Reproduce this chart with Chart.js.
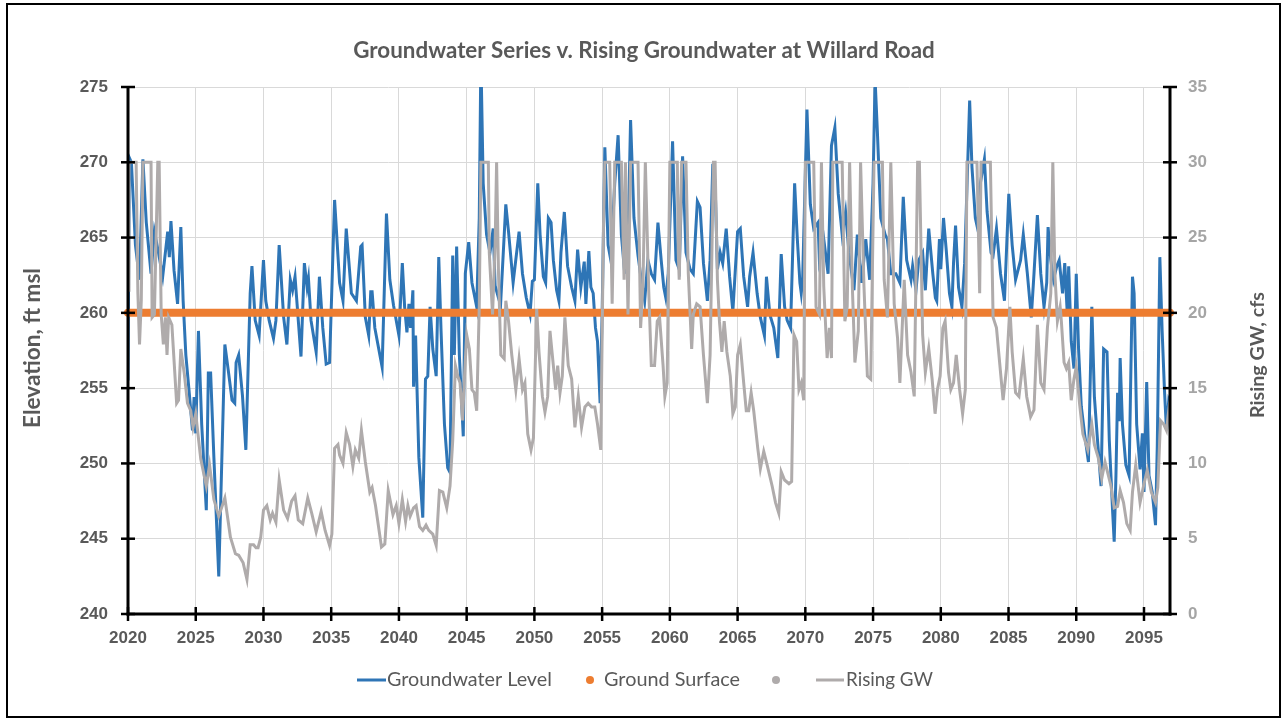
<!DOCTYPE html>
<html><head><meta charset="utf-8">
<script src="https://cdn.jsdelivr.net/npm/chart.js@4.4.1/dist/chart.umd.min.js"></script>
<style>html,body{margin:0;padding:0;background:#fff;}#wrap{width:1283px;height:721px;position:relative;}</style>
</head><body><div id="wrap"><canvas id="c" width="1283" height="721"></canvas></div>
<script>
const chartTitle = "Groundwater Series v. Rising Groundwater at Willard Road";
const leftAxisTitle = "Elevation, ft msl";
const rightAxisTitle = "Rising GW, cfs";
const xTicks = [2020,2025,2030,2035,2040,2045,2050,2055,2060,2065,2070,2075,2080,2085,2090,2095];
const yLeftTicks = [240,245,250,255,260,265,270,275];
const yRightTicks = [0,5,10,15,20,25,30,35];

const gwYears = [2020.00,2020.10,2020.25,2020.55,2020.85,2021.10,2021.35,2021.70,2021.95,2022.25,2022.56,2022.93,2023.05,2023.17,2023.40,2023.66,2023.90,2024.07,2024.27,2024.50,2024.76,2024.88,2025.00,2025.20,2025.44,2025.78,2025.93,2026.10,2026.34,2026.70,2027.15,2027.40,2027.68,2027.88,2027.98,2028.17,2028.45,2028.70,2029.02,2029.15,2029.39,2029.68,2030.00,2030.17,2030.42,2030.74,2030.92,2031.16,2031.49,2031.73,2031.98,2032.15,2032.33,2032.77,2033.02,2033.22,2033.32,2033.51,2033.89,2034.13,2034.38,2034.63,2034.88,2035.25,2035.62,2035.87,2036.11,2036.49,2036.86,2037.18,2037.28,2037.52,2037.77,2037.92,2038.02,2038.22,2038.76,2039.08,2039.33,2039.60,2040.00,2040.25,2040.42,2040.59,2040.74,2040.86,2041.03,2041.08,2041.23,2041.47,2041.76,2041.96,2042.13,2042.30,2042.50,2042.75,2042.94,2043.11,2043.36,2043.60,2043.77,2043.97,2044.09,2044.26,2044.46,2044.75,2044.90,2045.15,2045.39,2045.74,2045.93,2046.05,2046.22,2046.47,2046.72,2046.96,2047.10,2047.50,2047.89,2048.09,2048.43,2048.87,2049.12,2049.40,2049.68,2049.85,2050.00,2050.25,2050.42,2050.66,2050.83,2051.03,2051.23,2051.40,2051.64,2051.81,2051.96,2052.21,2052.45,2052.75,2052.99,2053.19,2053.43,2053.68,2053.80,2054.02,2054.17,2054.34,2054.51,2054.66,2054.85,2055.00,2055.20,2055.44,2055.64,2055.93,2056.18,2056.42,2056.67,2056.91,2057.10,2057.35,2057.65,2057.89,2058.14,2058.38,2058.63,2058.87,2059.12,2059.36,2059.55,2059.70,2059.88,2060.20,2060.45,2060.69,2060.94,2061.19,2061.49,2061.73,2062.03,2062.23,2062.48,2062.77,2062.97,2063.17,2063.34,2063.51,2063.71,2063.90,2064.16,2064.41,2064.65,2065.00,2065.20,2065.45,2065.74,2065.89,2066.14,2066.44,2066.68,2066.98,2067.13,2067.38,2067.67,2067.97,2068.22,2068.47,2068.66,2068.91,2069.21,2069.41,2069.60,2069.70,2069.80,2070.12,2070.37,2070.62,2070.94,2071.04,2071.36,2071.68,2071.93,2072.18,2072.43,2072.72,2072.97,2073.22,2073.59,2073.84,2074.16,2074.46,2074.75,2075.00,2075.15,2075.32,2075.57,2075.89,2076.06,2076.31,2076.68,2076.98,2077.23,2077.48,2077.80,2077.92,2078.17,2078.37,2078.66,2078.86,2079.11,2079.41,2079.60,2079.70,2079.90,2080.00,2080.20,2080.40,2080.64,2080.82,2080.94,2081.09,2081.31,2081.56,2081.76,2082.13,2082.30,2082.55,2082.72,2082.92,2083.22,2083.42,2083.71,2083.86,2084.11,2084.41,2084.70,2085.02,2085.27,2085.52,2085.89,2086.09,2086.39,2086.68,2086.88,2087.13,2087.38,2087.62,2087.82,2087.92,2088.12,2088.32,2088.56,2088.74,2088.99,2089.15,2089.34,2089.44,2089.63,2089.83,2090.00,2090.17,2090.37,2090.61,2090.90,2091.15,2091.34,2091.59,2091.83,2092.02,2092.27,2092.44,2092.68,2092.80,2092.93,2093.05,2093.17,2093.24,2093.41,2093.66,2093.90,2094.15,2094.27,2094.46,2094.71,2094.88,2095.00,2095.20,2095.37,2095.61,2095.85,2095.98,2096.17,2096.34,2096.51,2096.66,2096.83,2096.92];
const gwLevels = [255.5,270.3,270.0,264.5,262.2,270.2,266.0,262.6,265.4,264.0,262.4,265.4,263.7,266.1,262.8,260.6,265.7,260.8,257.2,254.9,252.2,254.4,252.0,258.8,252.6,246.9,256.0,256.0,250.4,242.5,257.9,256.2,254.2,254.0,256.7,257.2,254.5,250.9,261.3,263.1,259.5,258.5,263.5,260.8,259.5,258.3,259.5,264.5,259.7,257.9,262.2,261.5,262.4,257.1,263.3,261.7,262.3,259.5,257.4,262.4,259.0,256.6,256.7,267.5,262.0,260.8,265.6,261.3,260.8,264.4,264.5,259.7,258.5,261.4,261.4,259.0,256.4,266.6,262.2,260.5,258.5,263.3,260.4,258.7,260.6,259.0,261.5,255.1,258.5,250.4,246.4,255.6,255.8,260.4,257.6,255.8,263.7,258.8,252.6,249.7,249.4,263.8,257.2,264.4,257.2,251.8,262.6,264.7,262.0,260.4,266.3,277.0,268.6,265.2,264.0,265.6,261.8,260.5,267.2,265.4,262.0,265.4,262.6,261.0,259.9,262.1,262.2,268.6,265.2,262.4,262.0,266.3,266.0,263.5,261.5,260.8,264.0,266.7,263.1,261.7,260.8,264.2,261.7,263.4,260.6,264.1,261.7,261.3,259.0,258.1,254.0,259.9,271.0,264.5,263.5,268.6,271.8,265.2,262.6,264.7,272.8,266.3,263.8,262.2,260.8,263.5,262.6,262.2,266.0,263.5,261.7,261.0,262.6,271.4,263.5,262.9,270.4,264.0,262.9,262.6,267.4,267.0,263.3,260.8,263.5,269.9,268.6,262.9,264.0,263.3,265.6,262.4,260.1,265.4,265.6,262.4,260.4,262.4,264.0,261.3,259.7,258.5,262.4,259.9,259.0,257.0,263.9,260.4,259.5,259.0,268.6,264.9,262.0,261.3,262.2,273.5,267.2,265.6,266.0,263.5,264.9,262.6,271.1,272.3,267.9,265.2,266.7,264.0,261.5,265.2,262.0,264.9,262.2,268.6,275.5,272.0,266.3,265.2,264.9,262.6,262.6,262.0,267.7,263.5,262.2,263.1,261.5,263.5,264.0,261.5,265.6,262.6,261.0,260.8,264.9,262.9,266.3,264.2,261.3,260.4,263.3,265.8,261.7,260.4,263.3,274.1,269.7,266.3,265.6,268.6,270.2,266.7,264.0,263.8,265.6,262.6,260.8,267.9,264.5,262.2,263.5,265.2,262.6,259.7,262.6,266.5,262.6,260.4,262.0,265.7,263.5,262.2,263.1,263.5,261.3,263.3,259.9,263.1,258.1,256.3,262.6,257.6,253.8,252.0,250.1,260.4,254.4,251.3,248.5,257.6,257.4,251.5,246.9,244.8,249.2,254.7,252.8,257.0,252.6,249.9,249.2,262.4,261.3,252.6,249.6,252.0,248.1,255.4,249.2,248.1,245.9,251.1,263.7,258.8,254.9,252.2,254.2,254.0];

const rgYears = [2020.00,2020.07,2020.60,2020.73,2020.85,2020.98,2021.10,2021.70,2021.78,2021.95,2022.20,2022.30,2022.45,2022.61,2022.76,2022.88,2023.00,2023.24,2023.59,2023.73,2023.90,2024.15,2024.39,2024.63,2024.80,2025.00,2025.37,2025.78,2026.02,2026.34,2026.70,2027.15,2027.56,2027.93,2028.17,2028.50,2028.78,2029.02,2029.27,2029.45,2029.60,2029.80,2030.00,2030.25,2030.50,2030.67,2030.92,2031.16,2031.49,2031.78,2032.08,2032.33,2032.57,2032.90,2033.27,2033.56,2033.89,2034.26,2034.55,2034.88,2035.05,2035.25,2035.50,2035.62,2035.87,2036.11,2036.36,2036.60,2036.78,2037.03,2037.23,2037.52,2037.85,2038.02,2038.27,2038.71,2038.96,2039.21,2039.56,2039.80,2040.00,2040.25,2040.49,2040.66,2040.83,2041.08,2041.27,2041.52,2041.76,2042.00,2042.20,2042.50,2042.75,2042.99,2043.24,2043.53,2043.77,2043.97,2044.17,2044.34,2044.51,2044.70,2044.83,2045.00,2045.20,2045.39,2045.56,2045.74,2045.93,2046.05,2046.60,2046.67,2046.91,2047.10,2047.21,2047.35,2047.52,2047.77,2047.89,2048.09,2048.33,2048.63,2048.87,2049.12,2049.30,2049.51,2049.75,2049.93,2050.17,2050.34,2050.59,2050.78,2050.98,2051.15,2051.40,2051.57,2051.72,2051.89,2052.06,2052.25,2052.50,2052.75,2052.99,2053.24,2053.48,2053.73,2053.97,2054.22,2054.46,2054.66,2054.90,2055.10,2055.20,2055.56,2055.74,2055.93,2056.42,2056.62,2056.72,2056.91,2057.10,2057.65,2057.84,2058.01,2058.19,2058.43,2058.63,2058.87,2059.07,2059.24,2059.50,2059.63,2059.80,2060.00,2060.55,2060.62,2060.69,2060.87,2061.19,2061.36,2061.61,2061.73,2061.98,2062.23,2062.48,2062.77,2062.97,2063.22,2063.34,2063.51,2063.66,2063.84,2064.01,2064.21,2064.46,2064.65,2064.83,2065.00,2065.20,2065.45,2065.64,2065.82,2066.00,2066.19,2066.49,2066.68,2066.93,2067.18,2067.55,2067.80,2068.04,2068.22,2068.47,2068.79,2068.99,2069.16,2069.36,2069.53,2069.70,2069.88,2070.00,2070.62,2070.79,2071.04,2071.19,2071.36,2071.61,2071.78,2071.93,2072.03,2072.72,2072.92,2073.09,2073.27,2073.47,2073.66,2073.91,2074.08,2074.33,2074.58,2074.83,2075.07,2075.69,2075.82,2076.06,2076.31,2076.56,2076.81,2076.98,2077.30,2077.55,2077.80,2078.04,2078.29,2078.42,2078.66,2078.86,2079.11,2079.36,2079.58,2079.75,2079.95,2080.15,2080.32,2080.57,2080.74,2080.94,2081.14,2081.39,2081.61,2081.81,2081.93,2082.67,2082.87,2082.97,2083.66,2083.86,2084.11,2084.41,2084.60,2084.85,2085.10,2085.27,2085.52,2085.77,2086.09,2086.34,2086.63,2086.88,2087.13,2087.38,2087.62,2087.87,2088.12,2088.27,2088.42,2088.61,2088.81,2088.90,2089.10,2089.27,2089.44,2089.63,2089.83,2090.00,2090.24,2090.49,2090.85,2091.15,2091.34,2091.63,2091.88,2092.12,2092.37,2092.56,2092.80,2093.05,2093.24,2093.49,2093.73,2093.98,2094.15,2094.39,2094.71,2095.00,2095.24,2095.54,2095.85,2096.02,2096.22,2096.46,2096.66,2096.83,2096.92];
const rgFlows = [21.5,30,30,21.3,17.9,20.8,30,30,19.7,19.9,30,30,19.9,17.9,19.7,17.2,19.7,19.2,14.0,14.2,17.6,16.0,14.0,13.5,12.4,13.3,10.3,8.5,9.9,7.6,6.5,7.7,5.1,4.0,3.9,3.4,2.3,4.6,4.6,4.4,4.4,5.1,6.9,7.2,6.25,6.7,6.1,8.9,6.9,6.35,7.5,7.85,6.25,6.0,7.7,6.7,5.45,6.8,5.55,4.55,5.3,11.0,11.25,10.55,10.0,12.05,11.25,9.8,10.9,10.35,12.2,10.1,8.1,8.4,7.2,4.45,4.65,8.2,6.6,7.2,6.0,7.6,6.15,7.2,6.5,7.05,7.2,5.8,5.55,5.9,5.55,5.3,4.55,8.2,8.1,7.05,8.5,11.5,16.5,15.8,15.35,12.85,15.6,18.55,17.6,14.9,14.7,13.5,20.4,30,30,24.0,19.9,24.5,30,22.65,17.2,16.95,20.8,19.45,17.2,14.9,16.95,14.9,15.35,11.95,10.9,11.7,20.25,17.4,14.45,13.4,14.45,18.8,16.5,14.9,16.5,14.7,15.8,19.7,16.5,15.6,12.4,14.45,12.4,13.75,14.0,13.75,13.75,12.6,10.9,25.85,30,30,20.6,30,30,22.2,30,19.9,30,30,19.0,21.75,30,21.75,16.5,16.5,19.45,19.7,16.5,14.45,15.35,30,30,24.0,22.2,30,30,22.65,17.6,19.9,20.6,20.4,17.2,14.0,17.2,30,30,22.2,19.45,17.4,19.45,17.4,15.8,13.3,13.75,17.2,17.9,15.35,13.5,13.5,14.7,13.5,11.0,9.65,10.8,9.9,8.5,7.4,6.7,9.45,8.9,8.65,8.8,18.55,18.1,14.9,15.35,14.2,30,30,20.4,19.9,30,21.75,17.0,19.0,17.0,30,30,19.45,20.4,30,21.75,16.7,18.8,30,21.75,15.8,15.6,30,30,22.2,19.7,30,20.6,18.3,15.35,22.2,17.2,16.05,14.45,30,30,18.55,16.05,17.65,15.6,13.3,14.9,15.8,19.0,19.45,16.05,14.9,15.35,17.2,14.9,13.3,14.9,30,30,21.3,30,30,19.7,19.0,16.05,14.2,16.3,20.4,17.4,14.7,14.45,16.95,14.45,13.1,13.55,19.2,15.35,14.9,19.0,21.3,30,22.65,19.45,20.4,19.45,16.7,16.3,16.7,14.2,15.6,16.4,14.0,11.95,10.9,12.6,11.25,10.35,9.0,10.1,9.2,8.5,7.05,7.15,8.2,7.4,6.0,5.55,8.1,9.9,7.4,8.65,9.55,8.1,7.4,8.4,12.85,12.6,12.2,13.55,13.1];

const groundYears = [2020.0, 2096.92];
const groundLevels = [260, 260];

const COL_GW = '#2E75B6', COL_GS = '#ED7D31', COL_RG = '#AFABAB';
const TXT = '#595959', TXT_R = '#A5A5A5';
const FONT = "'Liberation Sans', Arial, sans-serif";
const TFONT = "Lato, 'Liberation Sans', sans-serif";

function pts(xs, ys){ return xs.map((x,i)=>({x:x, y:ys[i]})); }
function fitFont(ctx, text, weight, family, width){
  ctx.font = weight + " 100px " + family;
  const w = ctx.measureText(text).width;
  return weight + " " + (100*width/w).toFixed(2) + "px " + family;
}

const decor = {
  id:'decor',
  afterDatasetsDraw(chart){
    const {ctx, chartArea:a, scales} = chart;
    ctx.save();
    ctx.strokeStyle = '#000'; ctx.lineWidth = 3; ctx.lineCap = 'butt';
    const L = (x1,y1,x2,y2)=>{ctx.beginPath();ctx.moveTo(x1,y1);ctx.lineTo(x2,y2);ctx.stroke();};
    L(a.left, a.top, a.left, a.bottom+1.5);
    L(a.right, a.top, a.right, a.bottom+1.5);
    L(a.left-1.5, a.bottom, a.right+1.5, a.bottom);
    ctx.lineWidth = 2.5;
    scales.y.ticks.forEach(t=>{const p=scales.y.getPixelForValue(t.value); L(a.left-7,p,a.left+7,p);});
    scales.y2.ticks.forEach(t=>{const p=scales.y2.getPixelForValue(t.value); L(a.right-7,p,a.right+7,p);});
    scales.x.ticks.forEach(t=>{const p=scales.x.getPixelForValue(t.value); L(p,a.bottom-7,p,a.bottom+7);});
    ctx.restore();
  },
  afterDraw(chart){
    const {ctx} = chart;
    ctx.save();
    ctx.strokeStyle='#000'; ctx.lineWidth=2;
    ctx.strokeRect(7,4,1273,713);
    ctx.fillStyle = TXT; ctx.textAlign='center'; ctx.textBaseline='middle';
    ctx.font = fitFont(ctx, chartTitle, 'bold', TFONT, 582);
    ctx.fillText(chartTitle, 644, 51);
    ctx.save(); ctx.translate(33, 348); ctx.rotate(-Math.PI/2);
    ctx.font = fitFont(ctx, leftAxisTitle, 'bold', TFONT, 160);
    ctx.fillText(leftAxisTitle, 0, 0); ctx.restore();
    ctx.save(); ctx.translate(1258, 355); ctx.rotate(-Math.PI/2);
    ctx.font = fitFont(ctx, rightAxisTitle, 'bold', TFONT, 126);
    ctx.fillText(rightAxisTitle, 0, 0); ctx.restore();
    const ly = 680;
    ctx.textAlign='left';
    ctx.lineWidth = 3; ctx.lineCap='butt';
    ctx.strokeStyle = COL_GW; ctx.beginPath(); ctx.moveTo(357,ly); ctx.lineTo(386,ly); ctx.stroke();
    ctx.fillStyle = TXT;
    ctx.font = fitFont(ctx, chart.data.datasets[0].label, 'normal', TFONT, 165);
    ctx.fillText(chart.data.datasets[0].label, 387, ly);
    ctx.fillStyle = COL_GS; ctx.beginPath(); ctx.arc(590, ly, 4, 0, Math.PI*2); ctx.fill();
    ctx.fillStyle = TXT;
    ctx.font = fitFont(ctx, chart.data.datasets[1].label, 'normal', TFONT, 136);
    ctx.fillText(chart.data.datasets[1].label, 604, ly);
    ctx.fillStyle = COL_RG; ctx.beginPath(); ctx.arc(776, ly, 4, 0, Math.PI*2); ctx.fill();
    ctx.strokeStyle = COL_RG; ctx.beginPath(); ctx.moveTo(816,ly); ctx.lineTo(844,ly); ctx.stroke();
    ctx.fillStyle = TXT;
    ctx.font = fitFont(ctx, chart.data.datasets[2].label, 'normal', TFONT, 87);
    ctx.fillText(chart.data.datasets[2].label, 846, ly);
    ctx.restore();
  }
};

new Chart(document.getElementById('c'), {
  type: 'line',
  data: {
    datasets: [
      {label:'Groundwater Level', data: pts(gwYears, gwLevels), yAxisID:'y', borderColor:COL_GW, borderWidth:3, pointRadius:0, tension:0, order:3},
      {label:'Ground Surface', data: pts(groundYears, groundLevels), yAxisID:'y', borderColor:COL_GS, borderWidth:8, borderCapStyle:'round', pointRadius:0, order:2, clip:false},
      {label:'Rising GW', data: pts(rgYears, rgFlows), yAxisID:'y2', borderColor:COL_RG, borderWidth:3, pointRadius:0, tension:0, order:1}
    ]
  },
  options: {
    responsive:false, animation:false, devicePixelRatio:1,
    layout:{padding:{top:87,left:0,right:0,bottom:0}},
    plugins:{legend:{display:false}, title:{display:false}, tooltip:{enabled:false}},
    scales:{
      x:{type:'linear', min:2020, max:2096.92,
         afterBuildTicks:s=>{s.ticks = xTicks.map(v=>({value:v}));},
         afterFit:s=>{s.height=107;},
         grid:{color:'#D9D9D9', lineWidth:1, drawTicks:false},
         border:{display:false},
         ticks:{padding:14, color:TXT, font:{family:FONT, size:17, weight:'bold'}, maxRotation:0, autoSkip:false, callback:v=>String(v)}},
      y:{type:'linear', position:'left', min:240, max:275,
         afterBuildTicks:s=>{s.ticks = yLeftTicks.map(v=>({value:v}));},
         afterFit:s=>{s.width=128;},
         grid:{color:'#D9D9D9', lineWidth:1, drawTicks:false},
         border:{display:false},
         ticks:{padding:20, color:TXT, font:{family:FONT, size:17, weight:'bold'}}},
      y2:{type:'linear', position:'right', min:0, max:35,
         afterBuildTicks:s=>{s.ticks = yRightTicks.map(v=>({value:v}));},
         afterFit:s=>{s.width=113;},
         grid:{display:false, drawTicks:false},
         border:{display:false},
         ticks:{padding:18, color:TXT_R, font:{family:FONT, size:17, weight:'bold'}}}
    }
  },
  plugins:[decor]
});
</script></body></html>
